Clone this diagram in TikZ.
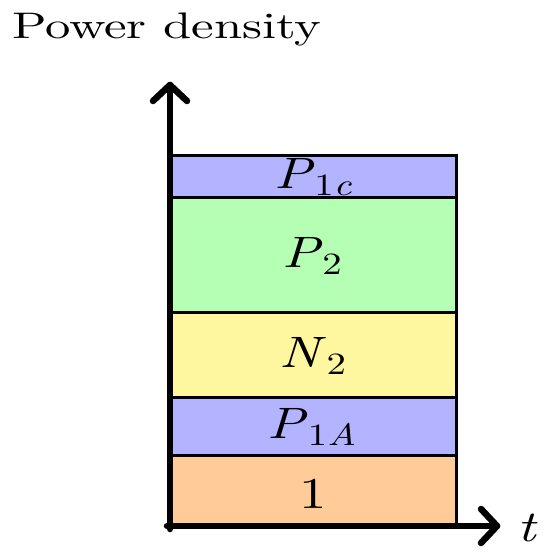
\documentclass[tikz,border=0pt]{standalone}
\usepackage{fontspec}
\setmainfont{lmroman10-regular.otf}[ItalicFont=lmroman10-italic.otf]
\usepackage{graphicx}
\definecolor{bandblue}{RGB}{179,179,255}
\definecolor{bandgreen}{RGB}{180,255,180}
\definecolor{bandyellow}{RGB}{255,246,160}
\definecolor{bandorange}{RGB}{255,204,153}
\newcommand{\lsub}[1]{\raisebox{-0.17em}{\fontsize{31}{34}\selectfont #1}}
\begin{document}
\begin{tikzpicture}[x=1pt,y=-1pt,
  band/.style={draw=black,line width=3pt},
  lbl/.style={anchor=base,inner sep=0pt,font=\fontsize{44}{50}\selectfont},
  axisline/.style={line width=6.5pt,line cap=round,line join=round}]
\useasboundingbox (0,0) rectangle (550,557);
\node[anchor=base west,inner sep=0pt,font=\fontsize{37}{44}\selectfont] (title) at (12,38) {\scalebox{1.37}[1]{Power density}};
% bands, top to bottom
\path[band,fill=bandblue] (170,155) rectangle (456,197);
\node[lbl] (p1c) at (313,188) {\scalebox{1.25}[1]{\textit{P}\lsub{1\textit{c}}}};
\path[band,fill=bandgreen] (170,197) rectangle (456,312);
\node[lbl] (p2) at (312,267) {\scalebox{1.25}[1]{\textit{P}\lsub{2}}};
\path[band,fill=bandyellow] (170,312) rectangle (456,397);
\node[lbl] (n2) at (313,367) {\scalebox{1.25}[1]{\textit{N}\lsub{2}}};
\path[band,fill=bandblue] (170,397) rectangle (456,455);
\node[lbl] (p1a) at (312,438) {\scalebox{1.25}[1]{\textit{P}\lsub{1\textit{A}}}};
\path[band,fill=bandorange] (170,455) rectangle (456,525);
\node[lbl] (one) at (313,508) {\scalebox{1.25}[1]{1}};
% axes
\coordinate (ytip) at (170,85);
\coordinate (xtip) at (497,526);
\coordinate (ybot) at (170,529);
\coordinate (xleft) at (167,526);
\draw[axisline] (ybot) -- (ytip);
\draw[axisline] (153,101) -- (ytip) -- (187,101);
\draw[axisline] (xleft) -- (xtip);
\draw[axisline] (481,509) -- (xtip) -- (481,543);
\node[lbl] (tlabel) at (528,541) {\scalebox{1.25}[1]{\textit{t}}};
\end{tikzpicture}
\end{document}
